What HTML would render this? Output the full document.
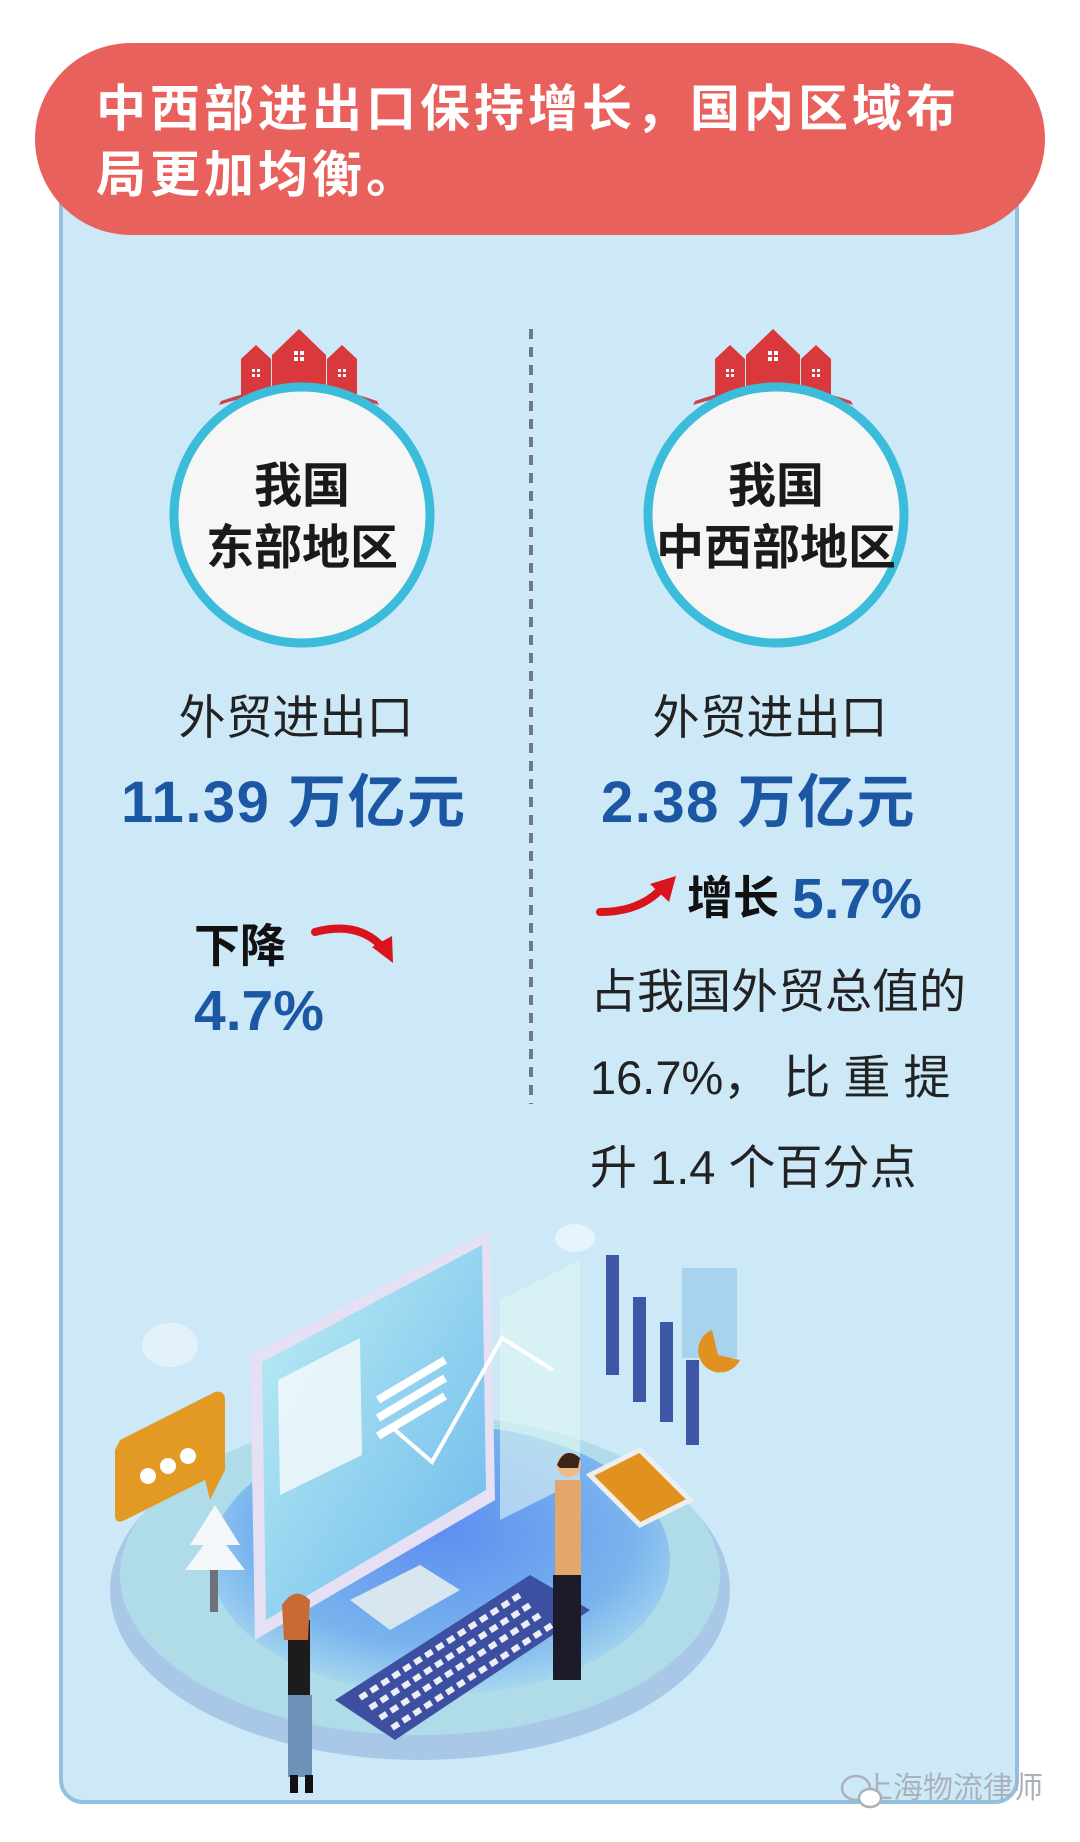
<!DOCTYPE html>
<html><head><meta charset="utf-8"><style>
html,body{margin:0;padding:0;background:#fff;}
body{width:1080px;height:1842px;overflow:hidden;}
svg{display:block}
text{font-family:"Liberation Sans","Noto Sans CJK SC",sans-serif;}
</style></head><body>
<svg width="1080" height="1842" viewBox="0 0 1080 1842" xmlns="http://www.w3.org/2000/svg">
<defs>
<g id="houses">
  <path d="M-78,72 Q0,44 78,72 L80,76 Q0,50 -80,76Z" fill="#c9444a"/>
  <path d="M-58,68 L-58,30 L-43,16 L-28,30 L-28,64Z" fill="#d9383c"/>
  <path d="M-27,62 L-27,26 L0,0 L27,26 L27,62Z" fill="#d9383c"/>
  <path d="M28,64 L28,30 L43,16 L58,30 L58,68Z" fill="#d9383c"/>
  <g fill="#fff"><rect x="-5" y="22" width="4" height="4"/><rect x="1" y="22" width="4" height="4"/><rect x="-5" y="28" width="4" height="4"/><rect x="1" y="28" width="4" height="4"/>
  <rect x="-47" y="40" width="3" height="3"/><rect x="-42" y="40" width="3" height="3"/><rect x="-47" y="45" width="3" height="3"/><rect x="-42" y="45" width="3" height="3"/>
  <rect x="39" y="40" width="3" height="3"/><rect x="44" y="40" width="3" height="3"/><rect x="39" y="45" width="3" height="3"/><rect x="44" y="45" width="3" height="3"/></g>
</g>
<radialGradient id="plat" cx="0.5" cy="0.4" r="0.6"><stop offset="0" stop-color="#5d8ef0"/><stop offset="0.7" stop-color="#79b4ee"/><stop offset="1" stop-color="#a8d8ee"/></radialGradient>
<linearGradient id="scr" x1="0" y1="0" x2="1" y2="1"><stop offset="0" stop-color="#bfeff3"/><stop offset="1" stop-color="#6ab8ec"/></linearGradient>
</defs>
<rect x="61" y="150" width="956" height="1652" rx="22" fill="#cde9f8" stroke="#95bfdf" stroke-width="4"/>
<rect x="35" y="43" width="1010" height="192" rx="96" fill="#e8615c"/>
<text x="96" y="126" font-size="50" font-weight="bold" fill="#fff" letter-spacing="4">中西部进出口保持增长，国内区域布</text>
<text x="96" y="192" font-size="50" font-weight="bold" fill="#fff" letter-spacing="4">局更加均衡。</text>
<line x1="531" y1="329" x2="531" y2="1104" stroke="#6f7b83" stroke-width="4" stroke-dasharray="10,8"/>
<use href="#houses" x="299" y="329"/>
<use href="#houses" x="773" y="329"/>
<circle cx="302" cy="515" r="128" fill="#f6f6f6" stroke="#3bbcdb" stroke-width="9"/>
<circle cx="776" cy="515" r="128" fill="#f6f6f6" stroke="#3bbcdb" stroke-width="9"/>
<text x="302" y="502" font-size="48" font-weight="bold" text-anchor="middle" fill="#1a1a1a">我国</text>
<text x="302" y="564" font-size="48" font-weight="bold" text-anchor="middle" fill="#1a1a1a">东部地区</text>
<text x="776" y="502" font-size="48" font-weight="bold" text-anchor="middle" fill="#1a1a1a">我国</text>
<text x="776" y="564" font-size="48" font-weight="bold" text-anchor="middle" fill="#1a1a1a">中西部地区</text>
<text x="296" y="734" font-size="47" text-anchor="middle" fill="#222">外贸进出口</text>
<text x="121" y="822" font-size="58" font-weight="bold" fill="#1c57a4" letter-spacing="1.5">11.39 万亿元</text>
<text x="194" y="962" font-size="46" font-weight="bold" fill="#111">下降</text>
<text x="194" y="1030" font-size="57" font-weight="bold" fill="#1c57a4">4.7%</text>
<path d="M315,932 Q360,920 385,950" stroke="#d9141c" stroke-width="8" fill="none" stroke-linecap="round"/>
<path d="M372,947 L393,963 L392,936Z" fill="#d9141c"/>
<text x="770" y="734" font-size="47" text-anchor="middle" fill="#222">外贸进出口</text>
<text x="601" y="822" font-size="58" font-weight="bold" fill="#1c57a4" letter-spacing="1.5">2.38 万亿元</text>
<path d="M600,912 Q640,912 662,888" stroke="#d9141c" stroke-width="8" fill="none" stroke-linecap="round"/>
<path d="M650,884 L676,876 L669,902Z" fill="#d9141c"/>
<text x="687" y="914" font-size="46" font-weight="bold" fill="#111">增长</text>
<text x="792" y="918" font-size="57" font-weight="bold" fill="#1c57a4">5.7%</text>
<text x="590" y="1008" font-size="47" fill="#222">占我国外贸总值的</text>
<text x="590" y="1094" font-size="47" fill="#222">16.7%， 比 重 提</text>
<text x="590" y="1184" font-size="47" fill="#222">升 1.4 个百分点</text>
<ellipse cx="575" cy="1238" rx="20" ry="14" fill="#e6f4fb"/>
<ellipse cx="170" cy="1345" rx="28" ry="22" fill="#e3f2fa"/>
<ellipse cx="420" cy="1590" rx="310" ry="170" fill="#a9c8e8"/>
<ellipse cx="420" cy="1575" rx="300" ry="160" fill="#b0dcea"/>
<ellipse cx="440" cy="1560" rx="230" ry="135" fill="url(#plat)"/>
<path d="M250,1355 L490,1230 L495,1500 L255,1640Z" fill="#e6e0f5"/>
<path d="M262,1362 L482,1245 L486,1490 L266,1620Z" fill="url(#scr)"/>
<path d="M278,1380 L360,1338 L362,1455 L280,1495Z" fill="#eef7fb" opacity="0.9"/>
<path d="M378,1400 L445,1360 M378,1418 L445,1378 M378,1436 L445,1396" stroke="#fff" stroke-width="8"/>
<path d="M500,1300 L580,1260 L580,1480 L500,1520Z" fill="#e0f6f2" opacity="0.6"/>
<path d="M395,1430 L432,1462 L502,1338 L553,1370" stroke="#fff" stroke-width="4" fill="none"/>
<path d="M350,1600 L420,1565 L460,1590 L390,1630Z" fill="#d8e6f0"/>
<path d="M335,1700 L530,1575 L590,1610 L395,1740Z" fill="#3d4fa0"/>
<path d="M360,1698 L520,1595 M370,1708 L530,1605 M380,1718 L540,1615 M392,1728 L552,1625" stroke="#fff" stroke-width="6" stroke-dasharray="8,5" opacity="0.9"/>
<path d="M590,1475 L640,1450 L690,1500 L640,1525Z" fill="#e0911f" stroke="#eee" stroke-width="5"/>
<g fill="#3d56a6"><rect x="606" y="1255" width="13" height="120"/><rect x="633" y="1297" width="13" height="105"/><rect x="660" y="1322" width="13" height="100"/><rect x="686" y="1360" width="13" height="85"/></g>
<rect x="682" y="1268" width="55" height="90" fill="#a8d3ee"/>
<path d="M712,1330 A22,22 0 1,0 740,1360 L718,1355Z" fill="#e0911f"/>
<path d="M120,1440 L215,1392 Q225,1390 225,1400 L225,1470 L210,1500 L205,1480 L125,1520 Q115,1525 115,1515 L115,1450Z" fill="#e39a24"/>
<circle cx="148" cy="1476" r="8" fill="#fff"/><circle cx="168" cy="1466" r="8" fill="#fff"/><circle cx="188" cy="1456" r="8" fill="#fff"/>
<path d="M215,1505 L240,1545 L190,1545Z M215,1530 L245,1570 L185,1570Z" fill="#f4f8fb"/>
<rect x="210" y="1570" width="8" height="42" fill="#6d7278"/>
<rect x="288" y="1620" width="22" height="75" fill="#1c1c1c"/>
<rect x="288" y="1695" width="24" height="82" fill="#6e93b8"/>
<path d="M282,1605 Q295,1585 310,1600 L308,1640 L284,1640Z" fill="#c86a35"/>
<rect x="290" y="1775" width="8" height="18" fill="#111"/><rect x="305" y="1775" width="8" height="18" fill="#111"/>
<rect x="555" y="1480" width="26" height="95" fill="#e5a66a"/>
<rect x="553" y="1575" width="28" height="105" fill="#1b1b2a"/>
<circle cx="569" cy="1465" r="12" fill="#f1b98a"/>
<path d="M557,1465 Q565,1445 580,1458 L578,1468 L560,1468Z" fill="#3a2518"/>
<text x="1043" y="1798" font-size="30" text-anchor="end" fill="#a9b2b8">上海物流律师</text>
<ellipse cx="856" cy="1788" rx="14" ry="12" fill="none" stroke="#a9b2b8" stroke-width="2.5"/>
<ellipse cx="870" cy="1798" rx="11" ry="9" fill="#fff" stroke="#a9b2b8" stroke-width="2.5"/>
</svg>
</body></html>
